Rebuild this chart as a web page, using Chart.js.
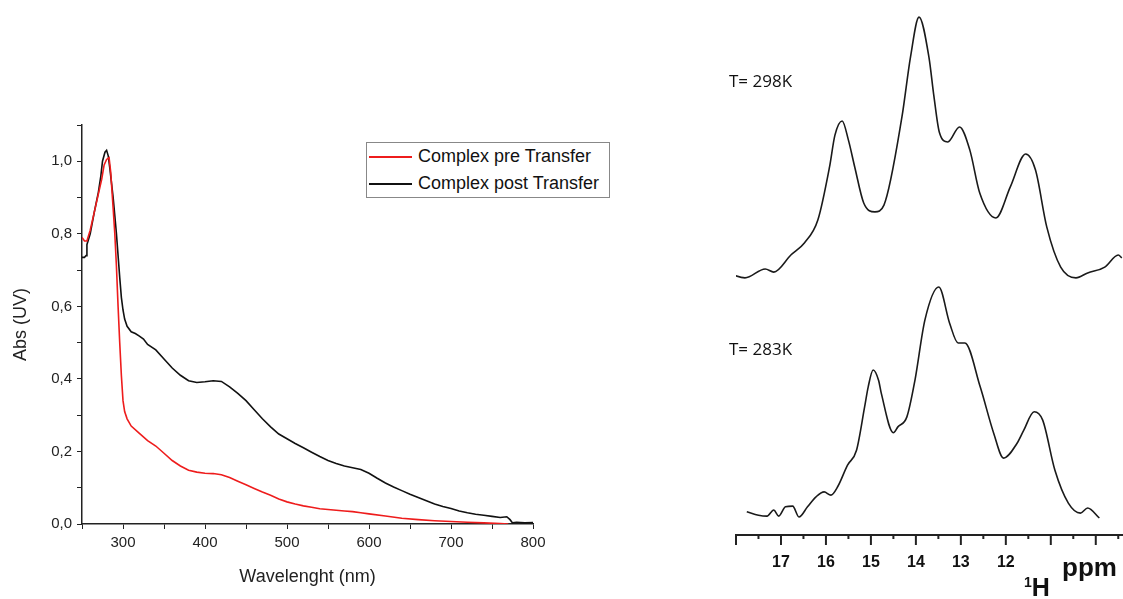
<!DOCTYPE html>
<html>
<head>
<meta charset="utf-8">
<script src="https://cdn.jsdelivr.net/npm/chart.js@4.4.0/dist/chart.umd.min.js"></script>
<style>
  body { margin: 0; background: #fff; width: 1123px; height: 599px; overflow: hidden; position: relative; font-family: "Liberation Sans", Arial, sans-serif; }
  #uvBox { position: absolute; left: 0; top: 0; width: 640px; height: 599px; }
  #nmrBox { position: absolute; left: 700px; top: 0; width: 435px; height: 599px; }
  .legend { position: absolute; left: 366px; top: 142px; width: 242px; border: 1px solid #888; background: #fff; }
  .legend .row { position: relative; height: 27px; font-size: 18px; line-height: 27px; color: #111; padding-left: 51px; white-space: nowrap; }
  .legend .swatch { position: absolute; left: 2px; top: 13px; width: 43px; height: 2px; }
  .temp { position: absolute; font-family: "Open Sans", sans-serif; font-size: 17px; color: #111; }
  .unit { position: absolute; font-weight: bold; color: #111; }
</style>
</head>
<body>
<div id="uvBox"><canvas id="uvChart"></canvas></div>
<div class="legend" id="uvLegend"></div>
<div id="nmrBox"><canvas id="nmrChart"></canvas></div>
<div class="temp" style="left:729px; top:69px;">T= 298K</div>
<div class="temp" style="left:729px; top:337px;">T= 283K</div>
<div class="unit" style="left:1062px; top:552px; font-size:26px;">ppm</div>
<div class="unit" style="left:1024px; top:573px; font-size:25px;"><sup style="font-size:14px;">1</sup>H</div>

<script>
// UV-vis data
const seriesNames = ["Complex pre Transfer", "Complex post Transfer"];
const seriesColors = ["#ee1c1c", "#111111"];

const wlPre = [250, 253, 256, 260, 265, 270, 274, 277, 280, 283, 285, 288, 290, 292, 294, 296, 298, 300, 302, 305, 310, 320, 330, 340, 350, 360, 370, 380, 390, 400, 410, 420, 430, 440, 450, 460, 470, 480, 490, 500, 510, 520, 530, 540, 550, 560, 570, 580, 590, 600, 620, 640, 660, 680, 700, 720, 740, 760, 770];
const absPre = [0.79, 0.78, 0.78, 0.81, 0.86, 0.91, 0.95, 0.99, 1.005, 1.01, 0.97, 0.87, 0.80, 0.71, 0.60, 0.50, 0.41, 0.34, 0.31, 0.29, 0.27, 0.25, 0.23, 0.215, 0.195, 0.175, 0.16, 0.148, 0.143, 0.140, 0.139, 0.136, 0.128, 0.118, 0.108, 0.098, 0.088, 0.079, 0.069, 0.061, 0.055, 0.050, 0.046, 0.042, 0.040, 0.038, 0.036, 0.034, 0.031, 0.028, 0.022, 0.016, 0.012, 0.009, 0.007, 0.005, 0.003, 0.001, 0.0];

const wlPost = [250, 253, 255, 256, 260, 265, 270, 273, 275, 278, 280, 282, 284, 286, 288, 290, 292, 294, 296, 298, 300, 302, 305, 310, 315, 320, 325, 330, 340, 350, 360, 370, 380, 390, 400, 410, 420, 430, 440, 450, 460, 470, 480, 490, 500, 510, 520, 530, 540, 550, 560, 570, 580, 590, 600, 610, 620, 630, 640, 650, 660, 670, 680, 690, 700, 710, 720, 730, 740, 750, 760, 768, 772, 775, 780, 790, 800];
const absPost = [0.735, 0.735, 0.74, 0.77, 0.80, 0.86, 0.915, 0.96, 1.0, 1.025, 1.03, 1.015, 0.98, 0.94, 0.90, 0.85, 0.80, 0.74, 0.68, 0.625, 0.59, 0.565, 0.545, 0.53, 0.525, 0.518, 0.51, 0.495, 0.48, 0.455, 0.43, 0.41, 0.395, 0.39, 0.392, 0.395, 0.393, 0.378, 0.36, 0.34, 0.315, 0.29, 0.268, 0.248, 0.235, 0.222, 0.21, 0.198, 0.186, 0.175, 0.167, 0.16, 0.155, 0.15, 0.14, 0.126, 0.113, 0.102, 0.092, 0.082, 0.073, 0.064, 0.055, 0.048, 0.043, 0.036, 0.031, 0.027, 0.024, 0.021, 0.018, 0.02, 0.012, 0.003, 0.005, 0.003, 0.004];

// 1H NMR data (relative intensity)
const ppm298 = [18.14, 17.80, 17.35, 17.16, 16.78, 16.48, 16.18, 15.92, 15.80, 15.64, 15.50, 15.36, 15.16, 14.91, 14.71, 14.31, 14.12, 13.93, 13.71, 13.60, 13.48, 13.29, 13.03, 12.80, 12.58, 12.22, 11.90, 11.56, 11.34, 11.09, 10.78, 10.44, 10.18, 9.80, 9.50, 9.42];
const int298 = [0.023, 0.008, 0.042, 0.030, 0.095, 0.141, 0.228, 0.430, 0.551, 0.605, 0.532, 0.430, 0.293, 0.259, 0.285, 0.620, 0.848, 1.0, 0.848, 0.700, 0.563, 0.525, 0.582, 0.494, 0.331, 0.236, 0.354, 0.479, 0.418, 0.202, 0.049, 0.008, 0.027, 0.049, 0.095, 0.084];

const ppm283 = [17.76, 17.50, 17.31, 17.16, 17.05, 16.90, 16.74, 16.60, 16.41, 16.22, 16.04, 15.89, 15.74, 15.52, 15.32, 15.14, 15.06, 14.95, 14.83, 14.77, 14.50, 14.40, 14.20, 14.02, 13.80, 13.49, 13.25, 13.06, 12.91, 12.57, 12.27, 12.05, 11.75, 11.60, 11.37, 11.18, 10.91, 10.61, 10.34, 10.18, 9.92];
const int283 = [0.036, 0.021, 0.017, 0.043, 0.017, 0.057, 0.060, 0.013, 0.057, 0.100, 0.121, 0.107, 0.143, 0.236, 0.300, 0.486, 0.572, 0.644, 0.600, 0.545, 0.375, 0.400, 0.443, 0.601, 0.858, 1.0, 0.845, 0.760, 0.760, 0.572, 0.373, 0.266, 0.330, 0.386, 0.465, 0.429, 0.215, 0.073, 0.030, 0.052, 0.009];

const nmrMajor = [18, 17, 16, 15, 14, 13, 12, 11, 10];
const nmrLabels = [17, 16, 15, 14, 13, 12];

function toPoints(xs, ys) {
  return xs.map((x, i) => ({ x: x, y: ys[i] }));
}

// legend box
const legendEl = document.getElementById('uvLegend');
seriesNames.forEach(function (name, i) {
  let row = document.createElement('div');
  row.className = 'row';
  row.innerHTML = `<span class="swatch" style="background:${seriesColors[i]}"></span>${name}`;
  legendEl.appendChild(row);
});

const tickFont = { family: '"Liberation Sans", Arial, sans-serif', size: 15 };
const titleFont = { family: '"Liberation Sans", Arial, sans-serif', size: 18 };

new Chart(document.getElementById('uvChart'), {
  type: 'line',
  data: {
    datasets: [
      { label: seriesNames[0], data: toPoints(wlPre, absPre), borderColor: seriesColors[0], borderWidth: 1.6, pointRadius: 0, tension: 0 },
      { label: seriesNames[1], data: toPoints(wlPost, absPost), borderColor: seriesColors[1], borderWidth: 1.6, pointRadius: 0, tension: 0 }
    ]
  },
  options: {
    responsive: true,
    maintainAspectRatio: false,
    animation: false,
    layout: { padding: { top: 125, right: 107, left: 0, bottom: 0 } },
    plugins: { legend: { display: false }, tooltip: { enabled: false } },
    scales: {
      x: {
        type: 'linear', min: 250, max: 800,
        afterFit: function (s) { s.height = 75; },
        border: { color: '#222', width: 1.5 },
        grid: { drawOnChartArea: false, tickLength: 5, color: '#222' },
        ticks: {
          stepSize: 50, autoSkip: false, maxRotation: 0, color: '#222', font: tickFont, padding: 5,
          callback: function (v) { return (v % 100 === 0 && v >= 300) ? String(v) : ''; }
        },
        title: { display: true, text: 'Wavelenght (nm)', color: '#222', font: titleFont, padding: { top: 0, bottom: 11 } }
      },
      y: {
        min: 0, max: 1.1,
        afterFit: function (s) { s.width = 82; },
        border: { color: '#222', width: 1.5 },
        grid: { drawOnChartArea: false, tickLength: 5, color: '#222' },
        ticks: {
          stepSize: 0.1, autoSkip: false, color: '#222', font: tickFont, padding: 5,
          callback: function (v) { return Math.round(v * 10) % 2 === 0 ? v.toFixed(1).replace('.', ',') : ''; }
        },
        title: { display: true, text: 'Abs (UV)', color: '#222', font: titleFont, padding: { top: 10, bottom: 0 } }
      }
    }
  }
});

// tick marks of the ppm axis: long at whole ppm, short at halves
const ppmTicks = {
  id: 'ppmTicks',
  afterDraw(chart) {
    const sx = chart.scales.x;
    const ctx = chart.ctx;
    const y0 = chart.chartArea.bottom;
    ctx.save();
    ctx.strokeStyle = '#222';
    ctx.lineWidth = 2;
    nmrMajor.forEach(function (v) {
      [v, v - 0.5].forEach(function (t) {
        if (t < sx.min) return;
        const px = sx.getPixelForValue(t);
        ctx.beginPath();
        ctx.moveTo(px, y0);
        ctx.lineTo(px, y0 + (t === v ? 10 : 4));
        ctx.stroke();
      });
    });
    ctx.restore();
  }
};

new Chart(document.getElementById('nmrChart'), {
  type: 'line',
  data: {
    datasets: [
      { label: 'T= 298K', data: toPoints(ppm298, int298), yAxisID: 'yTop', borderColor: '#1a1a1a', borderWidth: 1.6, pointRadius: 0, cubicInterpolationMode: 'monotone' },
      { label: 'T= 283K', data: toPoints(ppm283, int283), yAxisID: 'yBot', borderColor: '#1a1a1a', borderWidth: 1.6, pointRadius: 0, cubicInterpolationMode: 'monotone' }
    ]
  },
  options: {
    responsive: true,
    maintainAspectRatio: false,
    animation: false,
    layout: { padding: { top: 0, right: 3, left: 36, bottom: 0 } },
    plugins: { legend: { display: false }, tooltip: { enabled: false } },
    scales: {
      x: {
        type: 'linear', reverse: true, min: 9.35, max: 18,
        afterFit: function (s) { s.height = 64; },
        border: { color: '#222', width: 2 },
        grid: { display: false },
        ticks: {
          stepSize: 1, autoSkip: false, maxRotation: 0, color: '#111', padding: 10,
          font: { family: '"Liberation Sans", Arial, sans-serif', size: 16, weight: 'bold' },
          callback: function (v) { return nmrLabels.includes(v) ? String(v) : ''; }
        }
      },
      yTop: { display: false, min: -0.970, max: 1.065 },
      yBot: { display: false, min: -0.064, max: 2.232 }
    }
  },
  plugins: [ppmTicks]
});
</script>
</body>
</html>
